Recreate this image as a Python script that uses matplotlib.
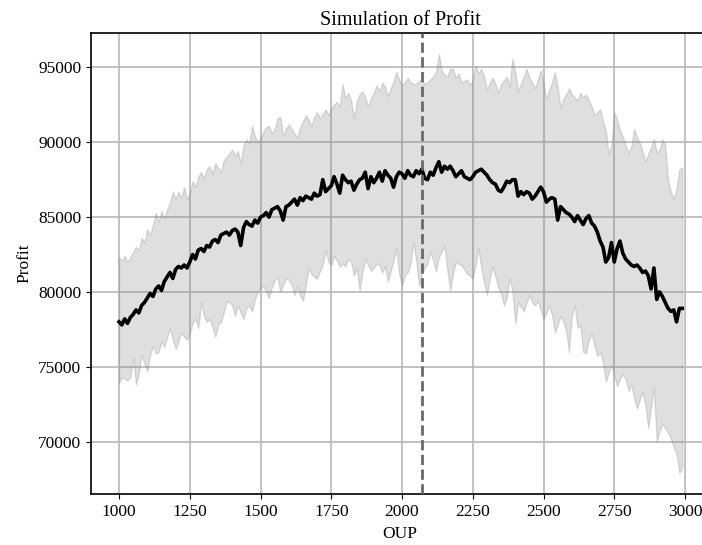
import numpy as np
import matplotlib
matplotlib.use("Agg")
import matplotlib.pyplot as plt

plt.rcParams['font.family'] = ['Liberation Serif', 'DejaVu Serif']

oup = np.arange(1000, 3000, 10)

mean_profit = [
    78000, 77800, 78200, 77900, 78300, 78500, 78800, 78600, 79100, 79300,
    79600, 79900, 79700, 80200, 80400, 80100, 80700, 81000, 81300, 80900,
    81500, 81700, 81600, 81800, 81600, 82000, 82500, 82200, 82800, 82900,
    82700, 83100, 83000, 83400, 83500, 83300, 83800, 83900, 84000, 83800,
    84100, 84200, 84000, 83100, 84300, 84700, 84500, 84400, 84800, 84600,
    85000, 85100, 85300, 85000, 85500, 85600, 85700, 85400, 84800, 85700,
    85800, 86000, 86200, 85800, 86300, 86100, 86400, 86300, 86200, 86600,
    86400, 86500, 87500, 86700, 86900, 87100, 87700, 87200, 86600, 87800,
    87500, 87300, 87400, 86800, 87200, 87500, 87600, 88000, 86900, 87700,
    87300, 87600, 88000, 87400, 88100, 87800, 87600, 87000, 87700, 88000,
    87900, 87600, 88100, 87800, 87700, 88100, 87900, 88200, 87600, 87500,
    88000, 87800, 88300, 88700, 88000, 88400, 88200, 88400, 88100, 87700,
    87900, 88100, 87700, 87600, 87500, 87700, 88000, 88100, 88200, 88000,
    87800, 87500, 87300, 87200, 86800, 86700, 87000, 87400, 87300, 87500,
    87500, 86400, 86700, 86500, 86700, 86600, 86200, 86400, 86700, 87000,
    86700, 86000, 86200, 86300, 86200, 84800, 85700, 85500, 85300, 85200,
    85000, 84700, 85100, 84800, 84500, 84900, 85100, 84600, 84400, 84000,
    83400, 83000, 82000, 82300, 83300, 82000, 82900, 83400, 82600, 82200,
    82000, 81800, 81700, 81800, 81600, 81300, 81400, 81100, 80200, 81600,
    79500, 80000, 79700, 79300, 78900, 78700, 78800, 78000, 78900, 78900,
]

upper_profit = [
    82300, 82100, 82400, 82000, 82300, 82700, 83000, 82800, 83600, 83300,
    84200, 83800, 84500, 85300, 84700, 85400, 84900, 85500, 86000, 86700,
    86200, 86700, 86300, 87000, 86200, 86600, 87400, 87000, 87700, 88000,
    87600, 88200, 88400, 87900, 88600, 88300, 88000, 88800, 89000, 89300,
    89500, 89100, 89400, 88600, 89800, 90200, 89900, 91100, 90400, 90000,
    90300, 90700, 91000, 91100, 90600, 90900, 91600, 91700, 90400, 90900,
    91200, 90900, 90600, 90300, 91000, 91400, 91800, 91500, 91100, 91700,
    92000, 91600, 91900, 92200, 91800, 92300, 92500, 92700, 92400, 93900,
    92900, 93300, 92800, 91600, 92700, 93200, 93400, 93000, 92400, 92900,
    93300, 93800, 93400, 94000, 93700, 93100, 93600, 94100, 94700, 94200,
    93800, 94000, 94300, 94000, 93900, 93900, 94100, 94200, 93900, 94000,
    94200, 94400, 94700, 95900, 94800, 94500, 94400, 94900, 94900, 94300,
    94600, 94000, 94100, 94200, 93800, 94200, 95100, 94600, 94900, 94400,
    93500, 94000, 94300, 93900, 93300, 93900, 94100, 94400, 93700, 95600,
    94700, 93400, 93900, 94400, 94900, 94300, 94000, 93600, 94200, 94800,
    93900, 92900, 93500, 94000, 94700, 93700, 92300, 92900, 93200, 93600,
    93200, 93000, 92800, 93300, 93000, 93200, 92800, 92400, 91800, 92000,
    92200, 91400, 90800, 89200, 89800, 92000, 91500, 90800, 90400, 89800,
    89300, 89700, 90900, 90300, 90000, 89400, 88700, 89200, 89700, 90200,
    89300, 89500, 90200, 89800, 87400, 86700, 86200, 86900, 88200, 88300,
]

lower_profit = [
    73900, 74300, 74200, 74100, 74300, 75600, 73800, 74600, 75800, 75200,
    74700, 75800, 76400, 75900, 76000, 76700, 76300, 77000, 77600, 76800,
    76200, 76700, 77300, 77000, 76800, 77200, 77900, 78200, 77600, 79300,
    78400, 78000, 78200, 77600, 77000, 77800, 78000, 78600, 79400, 79300,
    79100, 78400, 79100, 78600, 78200, 78900, 79100, 78700, 79500, 80000,
    80200, 80400, 80000, 79600, 80300, 80800, 81000, 80000, 80500, 80900,
    80800, 80500, 79800, 80400, 79800, 79400, 80500, 81600, 81200, 81000,
    80900, 81400, 81800, 82800, 82000, 81800, 82400, 82100, 81700, 81900,
    81700, 82200, 82000, 81100, 81600, 80100, 81300, 82200, 81800, 81400,
    81600, 81900, 81800, 81300, 81700, 80700, 81400, 82100, 82900, 81200,
    80400, 81100, 81300, 81900, 83300, 82100, 80400, 81200, 81600, 81900,
    82700, 82100, 81400, 82300, 82700, 83100, 81500, 80100, 81200, 82000,
    81900, 81800, 81500, 81200, 81100, 80900, 81800, 82900, 81600, 80600,
    79800, 80900, 81700, 81000, 80300, 79900, 79100, 79600, 80900, 80100,
    77900, 79300, 79000, 78700, 79300, 79800, 79300, 79100, 79400, 78800,
    78200, 78600, 79100, 78500, 77300, 77800, 78400, 78000, 77400, 76000,
    78400, 79100, 77600, 77800, 76000, 75900, 76800, 77200, 76400, 75700,
    76000, 75300, 74000, 74600, 75100, 74400, 73700, 74200, 74500, 74200,
    73400, 73800, 72900, 72200, 72800, 73300, 72400, 70900, 72300, 73600,
    70000, 70700, 71200, 70900, 70600, 70200, 69600, 69200, 67900, 68300,
]

optimal_oup = 2070
xticks = [1000, 1250, 1500, 1750, 2000, 2250, 2500, 2750, 3000]
yticks = [70000, 75000, 80000, 85000, 90000, 95000]

fig = plt.figure(figsize=(7.02, 5.45), dpi=100)
ax = fig.add_axes([91 / 702, 51 / 545, 628 / 702, 461 / 545])

ax.fill_between(oup, lower_profit, upper_profit, color='gray', alpha=0.25, zorder=2)
ax.plot(oup, mean_profit, color='black', linewidth=2.6, zorder=3)
ax.axvline(optimal_oup, color='dimgray', linestyle='--', linewidth=2, zorder=4)

ax.set_xlim(901, 3120)
ax.set_xticks(xticks)
ax.set_yticks(yticks)
ax.tick_params(labelsize=12.5)
ax.grid(True, color='#b8b8b8', linewidth=1.2, zorder=1)
ax.set_axisbelow(True)
for s in ax.spines.values():
    s.set_linewidth(1.2)
ax.spines['right'].set_visible(False)

ax.set_title('Simulation of Profit', fontsize=14.5, x=(400 - 91) / 628)
ax.set_xlabel('OUP', fontsize=12.5)
ax.xaxis.set_label_coords((400 - 91) / 628, -0.07)
ax.set_ylabel('Profit', fontsize=12.5)

fig.savefig('out.png', dpi=100)
